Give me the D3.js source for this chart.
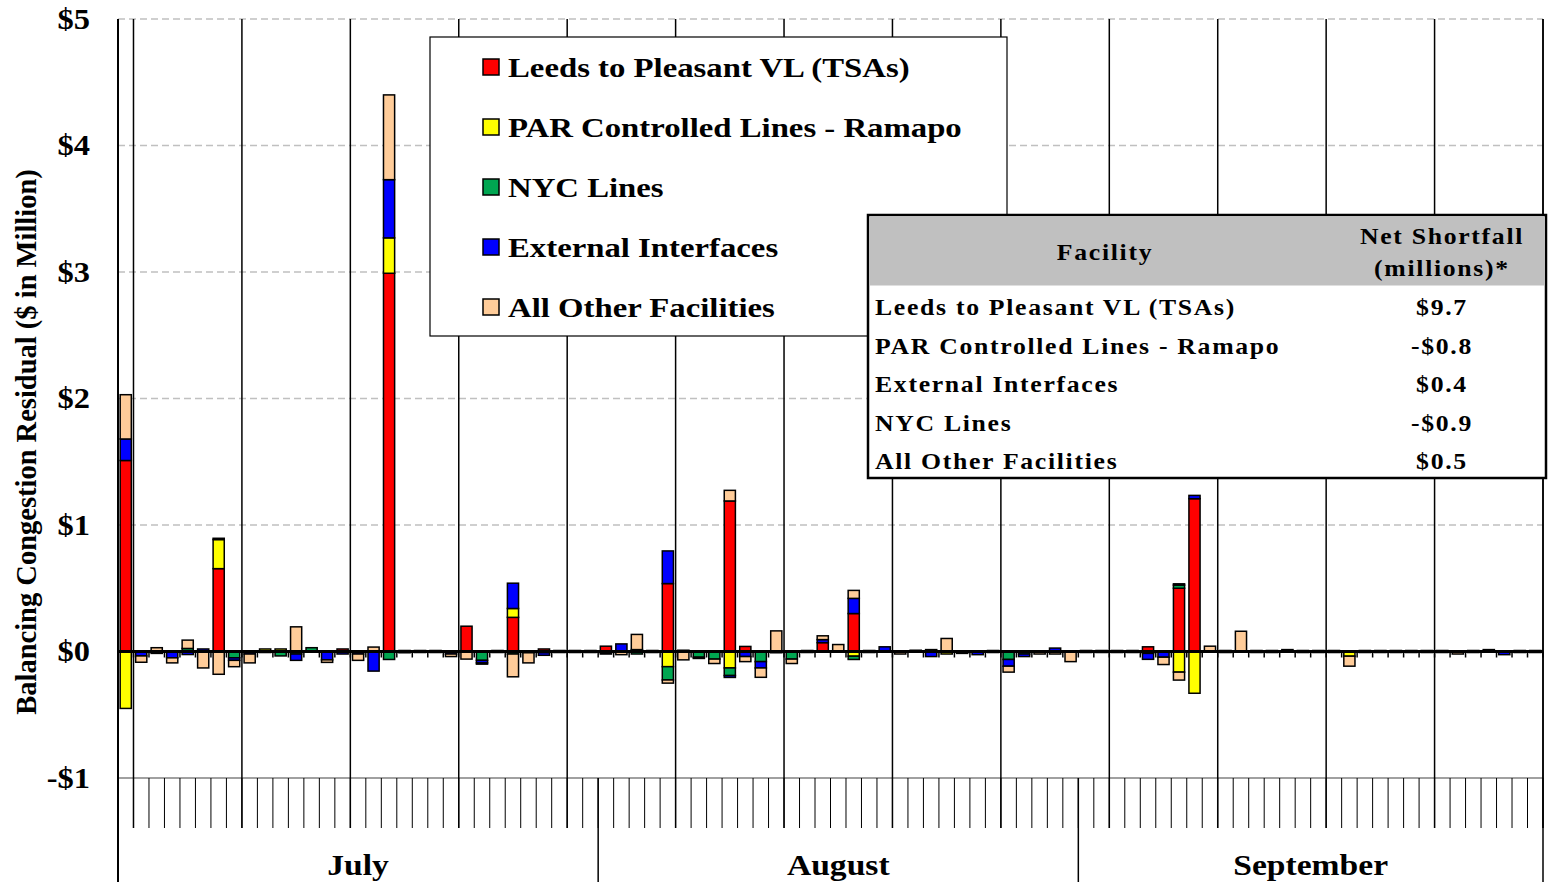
<html>
<head>
<meta charset="utf-8">
<title>Balancing Congestion Residual by Facility</title>
<script src="https://cdnjs.cloudflare.com/ajax/libs/d3/7.8.5/d3.min.js"></script>
<style>
  body { margin: 0; background: #fff; }
  text { font-family: "Liberation Serif", "Times New Roman", serif; font-weight: bold; fill: #000; }
</style>
</head>
<body>
<div id="chart"></div>
<script>
// one value per day, July 1 .. September 30 ($ million)
const days = d3.range(1, 93);
const months = ["July", "August", "September"];
const monthDays = [31, 31, 30];
const yTicks = [-1, 0, 1, 2, 3, 4, 5];

const leeds = [
  1.51,0,0,0,0,0,0.655,0,0,0, 0,0,0,0,0.02,0,0,2.99,0,0, 0,0,0.2,0,0,0.27,0,0.02,0,0, 0,
  0.042,0,0,0,0.537,0,0,0,1.19,0.04, 0,0,0,0,0.07,0,0.30,0,0,0, 0,0,0,0,0,0,0,0,0,0, 0,
  0,0,0,0,0.037,0,0.5,1.208,0,0, 0,0,0,0,0,0,0,0,0,0, 0,0,0,0,0,0,0,0,0,0
];
const par = [
  -0.45,0,-0.015,0,0,0,0.23,0,0,0.02, 0.02,0,0,0,0,0,0,0.28,0,0, 0,0,0,0,0,0.07,0,0,0,0, 0,
  0,0,0,0,-0.12,0,0,0,-0.13,0, 0,0,0,0,0,0,-0.037,0,0,0, 0,0,-0.02,0,0,0,0,0,0,0, 0,
  0,0,0,0,0,0,-0.163,-0.33,0,0, 0,0,0,0,0,0,0,-0.037,0,0, 0,0,0,0,0,0,0,0,0,0
];
const nyc = [
  0,0,0,0,0.024,0,0,-0.05,0,-0.008, -0.035,-0.02,0.03,0,0,0,0,-0.063,-0.01,-0.008,
  -0.008,0,0,-0.07,-0.008,-0.02,0,-0.01,-0.008,-0.008,-0.008,
  -0.01,0,-0.02,-0.008,-0.105,0,-0.045,-0.06,-0.06,0, -0.08,-0.01,-0.06,-0.008,0,0,-0.026,-0.008,0,0,
  -0.005,0,0,0,0,-0.008,-0.063,-0.02,0,0, 0,
  -0.008,-0.008,-0.008,-0.008,-0.015,0,0.025,0,0,-0.008, 0,-0.008,-0.008,0,-0.008,-0.008,-0.008,0,-0.008,-0.008,
  -0.008,-0.008,-0.008,-0.008,0,-0.008,0,0,-0.008,-0.008
];
const ext = [
  0.17,-0.035,0,-0.05,-0.024,0.02,0.01,-0.02,-0.02,0, 0,-0.05,0,-0.066,-0.02,-0.02,-0.155,0.46,0.008,0.008,
  0.008,-0.02,0,-0.02,0.008,0.2,-0.01,-0.02,0.008,0.008,0.008,
  -0.01,0.06,0.015,0.008,0.258,0.01,-0.01,0,-0.015,-0.04, -0.05,0,0,0.008,0.024,0,0.12,0.008,0.037,0,
  0.01,-0.04,0,-0.015,-0.025,0.008,-0.053,-0.02,0,0.027, 0,
  0.008,0.008,0.008,0.008,-0.047,-0.045,0.01,0.026,0,0.008, 0,0.008,0.008,0.015,0.008,0.008,0.008,0,0.008,0.008,
  0.008,0.008,0.008,0.008,0,0.008,0,-0.025,0.008,0.008
];
const other = [
  0.35,-0.05,0.03,-0.04,0.066,-0.13,-0.18,-0.05,-0.07,0, 0,0.195,0,-0.02,0,-0.05,0.035,0.67,0,0,
  0,-0.02,-0.06,-0.01,0,-0.18,-0.08,0,0,0,0,
  0,-0.025,0.12,0,-0.025,-0.066,0,-0.035,0.084,-0.04, -0.074,0.163,-0.035,0,0.03,0.055,0.063,0,0,-0.02,
  0,0.015,0.103,0,0,0,-0.047,0,-0.02,-0.02, -0.08,
  0,0,0,0,0,-0.058,-0.063,0,0.042,0, 0.16,0,0,0,0,0,0,-0.079,0,0, 0,0,0,0,-0.02,0,0.015,0,0,0
];

const seriesKeys = ["leeds", "par", "nyc", "ext", "other"];
const seriesNames = ["Leeds to Pleasant VL (TSAs)", "PAR Controlled Lines - Ramapo", "NYC Lines",
                     "External Interfaces", "All Other Facilities"];
const seriesColors = ["#ff0000", "#ffff00", "#00a651", "#0000ff", "#ffcc99"];

const tableFacilities = ["Leeds to Pleasant VL (TSAs)", "PAR Controlled Lines - Ramapo",
                         "External Interfaces", "NYC Lines", "All Other Facilities"];
const tableShortfall = ["$9.7", "-$0.8", "$0.4", "-$0.9", "$0.5"];

const rows = days.map((d, i) => ({
  day: d, leeds: leeds[i], par: par[i], nyc: nyc[i], ext: ext[i], other: other[i]
}));

const W = 1550, H = 882;
const plotLeft = 118, plotRight = 1543, plotTop = 19, plotBottom = 778;

const svg = d3.select('#chart').append('svg')
  .attr('width', W).attr('height', H);

const y = d3.scaleLinear().domain([-1, 5]).range([plotBottom, plotTop]);
const xd = d3.scaleLinear().domain([0, days.length]).range([plotLeft, plotRight]);
const x = d3.scaleBand().domain(days).range([plotLeft, plotRight])
  .paddingInner(0.28).paddingOuter(0.14);

const color = d3.scaleOrdinal().domain(seriesKeys).range(seriesColors);

// stretched text helper (the original is a bit wide)
function label(g, tx, ty, str, size, anchor, sx, ls) {
  const t = g.append('g').attr('transform', `translate(${tx},${ty}) scale(${sx},1)`)
    .append('text')
    .attr('text-anchor', anchor)
    .attr('dy', '0.35em')
    .style('font-size', size + 'px')
    .text(str);
  if (ls) t.style('letter-spacing', ls + 'px');
  return t;
}

// horizontal dashed grid
svg.append('g').selectAll('line')
  .data([1, 2, 3, 4, 5])
  .join('line')
  .attr('x1', plotLeft).attr('x2', plotRight)
  .attr('y1', d => y(d)).attr('y2', d => y(d))
  .attr('stroke', '#c0c0c0').attr('stroke-width', 1.5)
  .attr('stroke-dasharray', '7,4');

// -$1 base line
svg.append('line')
  .attr('x1', plotLeft).attr('x2', plotRight)
  .attr('y1', y(-1)).attr('y2', y(-1))
  .attr('stroke', '#808080').attr('stroke-width', 1.5);

// weekly vertical lines
svg.append('g').selectAll('line')
  .data(d3.range(1, days.length + 1, 7))
  .join('line')
  .attr('x1', d => xd(d)).attr('x2', d => xd(d))
  .attr('y1', plotTop).attr('y2', 828)
  .attr('stroke', '#000').attr('stroke-width', 1.5);

// daily ticks under the plot
svg.append('g').selectAll('line')
  .data(d3.range(0, days.length + 1))
  .join('line')
  .attr('x1', d => xd(d)).attr('x2', d => xd(d))
  .attr('y1', plotBottom).attr('y2', 828)
  .attr('stroke', '#000').attr('stroke-width', 1);

// month separators
const monthEdges = [0].concat(Array.from(d3.cumsum(monthDays)));
svg.append('g').selectAll('line')
  .data(monthEdges)
  .join('line')
  .attr('x1', d => xd(d)).attr('x2', d => xd(d))
  .attr('y1', d => (d === 0 || d === days.length) ? plotTop : plotBottom).attr('y2', H)
  .attr('stroke', '#000').attr('stroke-width', 1.5);

// month labels
months.forEach((m, i) => {
  label(svg, (xd(monthEdges[i]) + xd(monthEdges[i + 1])) / 2, 864, m, 30, 'middle', 1.12);
});

// stacked bars
const stacked = d3.stack().keys(seriesKeys).offset(d3.stackOffsetDiverging)(rows);

svg.append('g').selectAll('g')
  .data(stacked)
  .join('g')
  .attr('fill', d => color(d.key))
  .selectAll('rect')
  .data(d => d.filter(s => s[1] - s[0] !== 0))
  .join('rect')
  .attr('x', d => x(d.data.day))
  .attr('width', x.bandwidth())
  .attr('y', d => y(Math.max(d[0], d[1])))
  .attr('height', d => Math.abs(y(d[0]) - y(d[1])))
  .attr('stroke', '#000')
  .attr('stroke-width', 1.5);

// zero axis with small day ticks
svg.append('line')
  .attr('x1', plotLeft).attr('x2', plotRight)
  .attr('y1', y(0)).attr('y2', y(0))
  .attr('stroke', '#000').attr('stroke-width', 3);
svg.append('g').selectAll('line')
  .data(d3.range(0, days.length + 1))
  .join('line')
  .attr('x1', d => xd(d)).attr('x2', d => xd(d))
  .attr('y1', y(0)).attr('y2', y(0) + 6)
  .attr('stroke', '#000').attr('stroke-width', 1.5);

// y axis
const yAxis = svg.append('g')
  .attr('transform', `translate(${plotLeft},0)`)
  .call(d3.axisLeft(y).tickValues(yTicks).tickSize(0)
    .tickFormat(d => d < 0 ? '-$' + (-d) : '$' + d));
yAxis.select('.domain').remove();
yAxis.selectAll('text')
  .attr('x', -25)
  .attr('transform', 'scale(1.12,1)')
  .style('font-size', '29px')
  .style('font-family', '"Liberation Serif", "Times New Roman", serif')
  .style('font-weight', 'bold')
  .attr('fill', '#000');

svg.append('line')
  .attr('x1', plotLeft).attr('x2', plotLeft)
  .attr('y1', plotTop).attr('y2', H)
  .attr('stroke', '#000').attr('stroke-width', 2);

svg.append('text')
  .attr('transform', `translate(36,${(168 + 716) / 2}) rotate(-90)`)
  .attr('text-anchor', 'middle')
  .style('font-size', '28.5px')
  .text('Balancing Congestion Residual ($ in Million)');

// legend
const legend = svg.append('g');
legend.append('rect')
  .attr('x', 430).attr('y', 37).attr('width', 577).attr('height', 299)
  .attr('fill', '#fff').attr('stroke', '#000').attr('stroke-width', 1.2);
seriesNames.forEach((name, i) => {
  const cy = 67 + i * 60;
  legend.append('rect')
    .attr('x', 483).attr('y', cy - 8).attr('width', 16).attr('height', 16)
    .attr('fill', seriesColors[i]).attr('stroke', '#000').attr('stroke-width', 1.5);
  label(legend, 508, cy, name, 28, 'start', 1.17);
});

// summary table
const table = svg.append('g');
table.append('rect')
  .attr('x', 868).attr('y', 215).attr('width', 678).attr('height', 263)
  .attr('fill', '#fff').attr('stroke', '#000').attr('stroke-width', 2.5);
table.append('rect')
  .attr('x', 869.5).attr('y', 216.5).attr('width', 675).attr('height', 69)
  .attr('fill', '#c0c0c0');
label(table, 1105, 252, 'Facility', 23, 'middle', 1.12, 1.5);
label(table, 1442, 236, 'Net Shortfall', 23, 'middle', 1.12, 1.5);
label(table, 1442, 268, '(millions)*', 23, 'middle', 1.12, 1.5);
tableFacilities.forEach((f, i) => {
  const cy = 307 + i * 38.5;
  label(table, 875, cy, f, 23, 'start', 1.12, 1.5);
  label(table, 1442, cy, tableShortfall[i], 23, 'middle', 1.12, 1.5);
});
</script>
</body>
</html>
